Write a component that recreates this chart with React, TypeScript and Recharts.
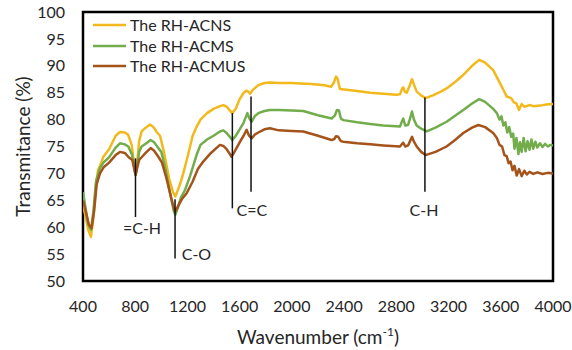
import React from 'react';
import {
  LineChart,
  Line,
  XAxis,
  YAxis,
  ReferenceArea,
  ReferenceLine,
  ReferenceDot,
  Legend,
} from 'recharts';

const FONT = 'Lato, "Open Sans", sans-serif';

// FTIR spectra: wavenumber (cm-1) and transmittance (%) for each sample
const acnsWave = [400, 420, 440, 461, 480, 500, 515, 540, 556, 600, 650, 683, 720, 745, 773, 790, 803, 815, 830, 849, 880, 913, 940, 964, 990, 1020, 1060, 1090, 1107, 1125, 1150, 1168, 1200, 1240, 1271, 1300, 1350, 1400, 1449, 1475, 1500, 1525, 1544, 1570, 1600, 1628, 1650, 1666, 1680, 1700, 1743, 1790, 1832, 1900, 2000, 2062, 2150, 2250, 2300, 2320, 2338, 2350, 2368, 2400, 2500, 2600, 2700, 2800, 2828, 2845, 2853, 2865, 2880, 2900, 2920, 2935, 2956, 2990, 3024, 3080, 3140, 3185, 3250, 3313, 3380, 3435, 3480, 3542, 3600, 3645, 3680, 3700, 3720, 3739, 3760, 3780, 3820, 3849, 3900, 3950, 4000];
const acnsT = [64, 62, 59.5, 58.2, 62, 68, 70.6, 72, 73.1, 74.5, 77, 77.7, 77.6, 77.2, 75.3, 72, 70, 72, 76, 77.8, 78.5, 79.1, 78.6, 77.7, 77, 74, 69, 66.5, 65.7, 66.8, 68.5, 70, 73, 77, 78.7, 80, 81.2, 82, 82.5, 82.7, 82.4, 81.7, 81.2, 82, 83.8, 84.9, 85.4, 85.2, 84.8, 85.5, 86.4, 86.8, 86.9, 86.8, 86.8, 86.7, 86.6, 86.4, 86.1, 86.8, 88, 87.6, 85.7, 85.6, 85.3, 85, 84.8, 84.6, 84.7, 85.8, 86, 85.2, 85, 86.2, 87.5, 86.5, 85.2, 84.5, 84, 84.5, 85.2, 85.8, 87, 88.3, 90, 91.1, 90.6, 89.2, 86.5, 84.3, 84.0, 83.2, 83.0, 81.8, 82.9, 82.4, 82.7, 82.5, 82.6, 82.8, 82.9];

const acmsWave = [400, 420, 440, 461, 480, 500, 530, 556, 600, 650, 683, 720, 747, 775, 790, 803, 815, 830, 849, 880, 918, 945, 977, 1000, 1030, 1070, 1095, 1107, 1125, 1150, 1181, 1220, 1271, 1300, 1350, 1400, 1449, 1475, 1500, 1525, 1544, 1570, 1600, 1628, 1659, 1675, 1692, 1715, 1743, 1790, 1832, 1900, 2000, 2087, 2200, 2304, 2330, 2345, 2361, 2375, 2394, 2500, 2600, 2700, 2828, 2845, 2853, 2868, 2890, 2905, 2920, 2935, 2956, 2990, 3032, 3100, 3185, 3250, 3313, 3380, 3435, 3480, 3542, 3570, 3590, 3605, 3620, 3635, 3650, 3665, 3680, 3695, 3705, 3720, 3735, 3747, 3760, 3775, 3790, 3805, 3820, 3835, 3849, 3865, 3880, 3900, 3920, 3940, 3960, 3980, 4000];
const acmsT = [66.5, 63.5, 60.5, 59.5, 63, 68.5, 71, 72, 73, 74.8, 75.6, 75.4, 75, 73.5, 71.5, 69.7, 71.5, 74, 75, 75.5, 76.2, 75.8, 74.7, 74, 71, 66, 63, 62.3, 63.5, 65.5, 66.9, 69.5, 73.5, 75.3, 76.3, 77, 77.8, 78, 77.5, 76.8, 76.2, 77, 78.2, 79.3, 81.2, 80.2, 79.6, 80.6, 81.2, 81.6, 81.8, 81.8, 81.7, 81.6, 80.8, 80.2, 80.8, 81.8, 81.7, 80.2, 79.9, 79.5, 79.2, 78.9, 78.7, 79.8, 80.2, 78.9, 79, 80.2, 81.5, 80, 78.9, 78.3, 77.8, 78.5, 79.6, 80.7, 81.8, 83, 83.8, 83.3, 82, 81.2, 80.0, 80.6, 78.9, 79.5, 77.6, 78.6, 76.8, 77.4, 74.6, 76.6, 73.6, 75.8, 74, 76.6, 74.1, 76, 74.4, 76.3, 74.6, 75.9, 74.8, 75.6, 74.9, 75.5, 75, 75.3, 75.2];

const acmusWave = [400, 420, 445, 466, 485, 505, 530, 560, 600, 650, 683, 720, 750, 778, 795, 803, 815, 830, 849, 880, 918, 945, 977, 1005, 1040, 1075, 1100, 1107, 1130, 1160, 1194, 1240, 1280, 1321, 1380, 1449, 1475, 1500, 1525, 1538, 1560, 1603, 1630, 1653, 1672, 1692, 1715, 1743, 1790, 1832, 1900, 2000, 2087, 2200, 2304, 2325, 2338, 2355, 2375, 2394, 2500, 2600, 2700, 2828, 2845, 2853, 2868, 2890, 2905, 2920, 2935, 2956, 2990, 3024, 3100, 3185, 3250, 3313, 3380, 3428, 3480, 3542, 3570, 3590, 3610, 3628, 3645, 3660, 3675, 3690, 3705, 3722, 3740, 3760, 3780, 3800, 3820, 3849, 3880, 3920, 3960, 4000];
const acmusT = [65, 63, 60.5, 59.8, 63, 68, 70, 71.2, 72, 73.4, 74, 73.8, 73, 72.5, 70.5, 69.7, 71, 72.5, 73, 73.8, 74.7, 74.2, 73.1, 72, 69, 65.5, 63.2, 62.9, 64, 65.3, 66.3, 68.5, 70.8, 72.2, 73.8, 75.3, 75.1, 74.5, 73.6, 73.1, 74, 75.9, 77, 78.1, 77, 76.5, 77.2, 77.6, 78.2, 78.4, 78, 77.9, 77.8, 77, 76.2, 76.4, 76.9, 76.8, 76, 75.9, 75.6, 75.4, 75.2, 75, 75.5, 75.7, 75, 75.2, 76, 76.8, 75.9, 75, 74, 73.4, 74, 75, 76.2, 77.5, 78.5, 79, 78.6, 77.5, 76.6, 75.3, 75.0, 73.4, 73.2, 71.9, 72.2, 70.6, 71.4, 69.6, 70.8, 69.5, 70.5, 69.8, 70.3, 69.9, 70.2, 69.9, 70.1, 70];

const xTicks = [400, 800, 1200, 1600, 2000, 2400, 2800, 3200, 3600, 4000];
const yTicks = [50, 55, 60, 65, 70, 75, 80, 85, 90, 95, 100];

// Band assignment markers: wavenumber and vertical extent (transmittance)
const bandLines = [
  { w: 802, top: 72.8, bottom: 61.9 },
  { w: 1105, top: 65.2, bottom: 54.2 },
  { w: 1544, top: 81.2, bottom: 63.5 },
  { w: 1687, top: 84.3, bottom: 66.6 },
  { w: 3019, top: 84.1, bottom: 66.6 },
];
const bandLabels = [
  { text: '=C-H', w: 852, t: 59.9, anchor: 'middle' },
  { text: 'C-O', w: 1156, t: 55.1, anchor: 'start' },
  { text: 'C=C', w: 1694, t: 63.3, anchor: 'middle' },
  { text: 'C-H', w: 3012, t: 63.3, anchor: 'middle' },
];

const toPoints = (w: number[], t: number[]) => w.map((x, i) => ({ w: x, t: t[i] }));

const series = [
  { name: 'The RH-ACNS', color: '#F2B91C', data: toPoints(acnsWave, acnsT) },
  { name: 'The RH-ACMS', color: '#72AC4B', data: toPoints(acmsWave, acmsT) },
  { name: 'The RH-ACMUS', color: '#A4531B', data: toPoints(acmusWave, acmusT) },
];

const TEXT = '#262626';

const LegendBox = () => (
  <div style={{ fontFamily: FONT, fontSize: 16, color: TEXT, lineHeight: '20.5px' }}>
    {series.map((s) => (
      <div key={s.name} style={{ display: 'flex', alignItems: 'center', whiteSpace: 'nowrap' }}>
        <svg width={35} height={20} style={{ marginRight: 2 }}>
          <line x1={0} y1={10} x2={33} y2={10} stroke={s.color} strokeWidth={2.5} />
        </svg>
        <span>{s.name}</span>
      </div>
    ))}
  </div>
);

export default function App() {
  return (
    <div style={{ position: 'absolute', left: 0, top: 0, background: '#fff' }}>
      <LineChart
        width={572}
        height={350}
        margin={{ top: 12, right: 19, bottom: 0, left: 0 }}
      >
        <XAxis
          dataKey="w"
          type="number"
          domain={[400, 4000]}
          ticks={xTicks}
          allowDataOverflow
          height={69}
          tickLine={false}
          axisLine={false}
          tickMargin={14}
          tick={{ fill: TEXT, fontSize: 16, fontFamily: FONT }}
          label={{
            content: ({ viewBox }: any) => (
              <text
                x={viewBox.x + viewBox.width / 2}
                y={viewBox.y + 63}
                textAnchor="middle"
                fill={TEXT}
                fontSize={19}
                fontFamily={FONT}
              >
                Wavenumber (cm
                <tspan fontSize={12} dy={-8}>-1</tspan>
                <tspan dy={8}>)</tspan>
              </text>
            ),
          }}
        />
        <YAxis
          type="number"
          domain={[50, 100]}
          ticks={yTicks}
          allowDataOverflow
          width={83}
          tickLine={false}
          axisLine={false}
          tickMargin={12}
          tick={{ fill: TEXT, fontSize: 16, fontFamily: FONT }}
          label={{
            content: ({ viewBox }: any) => {
              const cx = 22;
              const cy = viewBox.y + viewBox.height / 2;
              return (
                <text
                  x={cx}
                  y={cy}
                  transform={`rotate(-90, ${cx}, ${cy})`}
                  textAnchor="middle"
                  dominantBaseline="central"
                  fill={TEXT}
                  fontSize={19}
                  fontFamily={FONT}
                >
                  Transmitance (%)
                </text>
              );
            },
          }}
        />
        {series.map((s) => (
          <Line
            key={s.name}
            data={s.data}
            dataKey="t"
            name={s.name}
            type="linear"
            stroke={s.color}
            strokeWidth={2.5}
            strokeLinejoin="round"
            dot={false}
            activeDot={false}
            isAnimationActive={false}
          />
        ))}
        {bandLines.map((b) => (
          <ReferenceLine
            key={b.w}
            segment={[
              { x: b.w, y: b.top },
              { x: b.w, y: b.bottom },
            ]}
            stroke="#111"
            strokeWidth={1.5}
          />
        ))}
        {bandLabels.map((l) => (
          <ReferenceDot
            key={l.text + l.w}
            x={l.w}
            y={l.t}
            r={0}
            shape={(p: any) => (
              <text
                x={p.cx}
                y={p.cy}
                textAnchor={l.anchor as any}
                dominantBaseline="central"
                fill={TEXT}
                fontSize={16}
                fontFamily={FONT}
              >
                {l.text}
              </text>
            )}
          />
        ))}
        <ReferenceArea
          x1={400}
          x2={4000}
          y1={50}
          y2={100}
          fill="none"
          fillOpacity={0}
          stroke="#000"
          strokeWidth={2.5}
        />
        <Legend
          layout="vertical"
          align="center"
          verticalAlign="middle"
          content={() => <LegendBox />}
          wrapperStyle={{ top: 15, left: 93, width: 'auto', height: 'auto' }}
        />
      </LineChart>
    </div>
  );
}
